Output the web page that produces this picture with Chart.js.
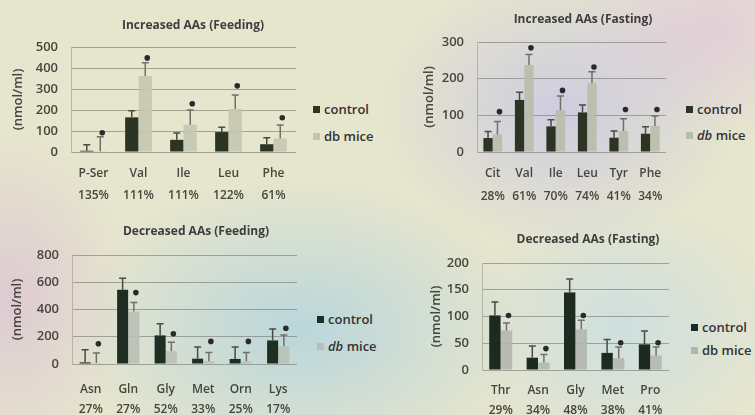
<!DOCTYPE html>
<html>
<head>
<meta charset="utf-8">
<script src="https://cdn.jsdelivr.net/npm/chart.js@4.4.1/dist/chart.umd.min.js"></script>
<style>
  html, body { margin: 0; padding: 0; }
  body {
    width: 755px; height: 415px; position: relative; overflow: hidden;
    font-family: "Open Sans", sans-serif;
    background:
      radial-gradient(ellipse 230px 150px at 300px 330px, rgba(178,212,222,0.85), rgba(178,212,222,0) 100%),
      radial-gradient(ellipse 180px 140px at 560px 110px, rgba(200,198,228,0.8), rgba(200,198,228,0) 100%),
      radial-gradient(ellipse 150px 110px at 710px 30px, rgba(226,204,218,0.9), rgba(226,204,218,0) 100%),
      radial-gradient(ellipse 120px 170px at 10px 300px, rgba(220,196,212,0.8), rgba(220,196,212,0) 100%),
      radial-gradient(ellipse 160px 130px at 620px 330px, rgba(200,222,228,0.8), rgba(200,222,228,0) 100%),
      #e6e5cd;
  }
  canvas { position: absolute; }
  .title { position: absolute; font-weight: 700; font-size: 12px; color: #3e3e3e; transform: translate(-50%, -50%); white-space: nowrap; }
  .leg { position: absolute; font-weight: 600; font-size: 13px; color: #333; transform: translateY(-50%); white-space: nowrap; }
  .leg span { display: inline-block; width: 7px; height: 7px; margin-right: 4px; vertical-align: middle; position: relative; top: -1px; }
</style>
</head>
<body>
<canvas id="c1" width="300" height="215" style="left:0;top:0"></canvas>
<canvas id="c2" width="290" height="215" style="left:380px;top:0"></canvas>
<canvas id="c3" width="300" height="205" style="left:0;top:210px"></canvas>
<canvas id="c4" width="295" height="205" style="left:380px;top:210px"></canvas>

<div class="title" style="left:193px;top:24px">Increased AAs (Feeding)</div>
<div class="title" style="left:583px;top:18px">Increased AAs (Fasting)</div>
<div class="title" style="left:196px;top:230px">Decreased AAs (Feeding)</div>
<div class="title" style="left:588px;top:238px">Decreased AAs (Fasting)</div>

<div class="leg" style="left:313px;top:109px"><span style="background:#2c3424"></span>control</div>
<div class="leg" style="left:313px;top:136px"><span style="background:#c2c5ad"></span>db mice</div>
<div class="leg" style="left:686px;top:109px"><span style="background:#2c3424"></span>control</div>
<div class="leg" style="left:686px;top:135px"><span style="background:#b9bcaa"></span><i>db</i> mice</div>
<div class="leg" style="left:317px;top:319px"><span style="background:#1e2e22"></span>control</div>
<div class="leg" style="left:317px;top:346px"><span style="background:#b9c0b6"></span><i>db</i> mice</div>
<div class="leg" style="left:691px;top:327px"><span style="background:#1c2a1f"></span>control</div>
<div class="leg" style="left:691px;top:350px"><span style="background:#b2b7ae"></span>db mice</div>

<script>
// Increased AAs (Feeding)
const feedUpLabels = ['P-Ser', 'Val', 'Ile', 'Leu', 'Phe'];
const feedUpPct = ['135%', '111%', '111%', '122%', '61%'];
const feedUpCtrl = [6, 165, 58, 95, 37];
const feedUpCtrlSd = [29, 32, 32, 23, 31];
const feedUpDb = [4, 362, 130, 205, 64];
const feedUpDbSd = [69, 63, 70, 67, 64];
const feedUpStar = [92, 448, 230, 315, 163];

// Increased AAs (Fasting)
const fastUpLabels = ['Cit', 'Val', 'Ile', 'Leu', 'Tyr', 'Phe'];
const fastUpPct = ['28%', '61%', '70%', '74%', '41%', '34%'];
const fastUpCtrl = [38, 142, 70, 108, 39, 50];
const fastUpCtrlSd = [18, 21, 18, 20, 18, 19];
const fastUpDb = [48, 237, 114, 188, 57, 71];
const fastUpDbSd = [35, 29, 39, 31, 34, 27];
const fastUpStar = [110, 284, 168, 232, 116, 116];

// Decreased AAs (Feeding)
const feedDownLabels = ['Asn', 'Gln', 'Gly', 'Met', 'Orn', 'Lys'];
const feedDownPct = ['27%', '27%', '52%', '33%', '25%', '17%'];
const feedDownCtrl = [12, 545, 210, 39, 37, 173];
const feedDownCtrlSd = [93, 85, 85, 85, 87, 83];
const feedDownDb = [7, 385, 95, 20, 20, 130];
const feedDownDbSd = [73, 66, 64, 65, 65, 82];
const feedDownStar = [149, 524, 222, 166, 166, 262];

// Decreased AAs (Fasting)
const fastDownLabels = ['Thr', 'Asn', 'Gly', 'Met', 'Pro'];
const fastDownPct = ['29%', '34%', '48%', '38%', '41%'];
const fastDownCtrl = [102, 23, 145, 32, 48];
const fastDownCtrlSd = [25, 22, 25, 25, 25];
const fastDownDb = [74, 14, 76, 22, 27];
const fastDownDbSd = [14, 15, 17, 21, 16];
const fastDownStar = [102, 40, 102, 51, 51];

// error bars + significance marks
const errorBars = {
  id: 'errorBars',
  afterDatasetsDraw(chart) {
    const ctx = chart.ctx;
    const ys = chart.scales.y;
    chart.data.datasets.forEach((ds, i) => {
      chart.getDatasetMeta(i).data.forEach((bar, j) => {
        const top = ys.getPixelForValue(ds.data[j] + ds.sd[j]);
        ctx.save();
        ctx.strokeStyle = ds.errColor;
        ctx.lineWidth = 1.5;
        ctx.beginPath();
        ctx.moveTo(bar.x, bar.y);
        ctx.lineTo(bar.x, top);
        ctx.moveTo(bar.x - 3.5, top);
        ctx.lineTo(bar.x + 3.5, top);
        ctx.stroke();
        if (ds.star) {
          ctx.fillStyle = '#2a2a2a';
          ctx.beginPath();
          ctx.arc(bar.x + 2, ys.getPixelForValue(ds.star[j]), 2.8, 0, Math.PI * 2);
          ctx.fill();
        }
        ctx.restore();
      });
    });
  }
};

function makeChart(id, o) {
  const ctx = document.getElementById(id).getContext('2d');
  return new Chart(ctx, {
    type: 'bar',
    data: {
      labels: o.labels.map((l, i) => [l, o.pct[i]]),
      datasets: [{
        label: 'control',
        data: o.ctrl,
        sd: o.ctrlSd,
        backgroundColor: o.ctrlColor,
        errColor: '#4a4a44',
        categoryPercentage: o.catPct,
        barPercentage: 0.98
      }, {
        label: 'db mice',
        data: o.db,
        sd: o.dbSd,
        star: o.star,
        backgroundColor: o.dbColor,
        errColor: '#707068',
        categoryPercentage: o.catPct,
        barPercentage: 0.98
      }]
    },
    options: {
      responsive: false,
      animation: false,
      layout: { padding: { top: o.padTop, right: o.padRight, left: 0, bottom: 0 } },
      plugins: { legend: { display: false }, tooltip: { enabled: false }, title: { display: false } },
      scales: {
        x: {
          grid: { display: false },
          border: { display: false },
          ticks: {
            color: '#46463f', padding: o.xPad, autoSkip: false, maxRotation: 0,
            font: { family: 'Open Sans', size: 12, weight: '600', lineHeight: o.lineH }
          },
          afterFit: s => { s.height = o.xH; }
        },
        y: {
          min: 0, max: o.max,
          ticks: { stepSize: o.step, color: '#46463f', padding: 13, font: { family: 'Open Sans', size: 13, weight: '600' } },
          grid: { color: 'rgba(110,110,100,0.55)', drawTicks: false },
          border: { color: 'rgba(140,140,130,0.5)' },
          title: {
            display: true, text: '(nmol/ml)', color: '#46463f',
            font: { family: 'Open Sans', size: 13, weight: '600' },
            padding: { top: o.titlePad, bottom: 0 }
          },
          afterFit: s => { s.width = o.yW; }
        }
      }
    },
    plugins: [errorBars]
  });
}

makeChart('c1', {
  labels: feedUpLabels, pct: feedUpPct, ctrl: feedUpCtrl, ctrlSd: feedUpCtrlSd,
  db: feedUpDb, dbSd: feedUpDbSd, star: feedUpStar,
  ctrlColor: '#2c3424', dbColor: 'rgba(196,199,176,0.9)', catPct: 0.6,
  max: 500, step: 100, padTop: 47, padRight: 4, yW: 71, xH: 63, xPad: 3, lineH: 1.83, titlePad: 10
});
makeChart('c2', {
  labels: fastUpLabels, pct: fastUpPct, ctrl: fastUpCtrl, ctrlSd: fastUpCtrlSd,
  db: fastUpDb, dbSd: fastUpDbSd, star: fastUpStar,
  ctrlColor: '#2c3424', dbColor: 'rgba(185,188,170,0.9)', catPct: 0.6,
  max: 300, step: 100, padTop: 42, padRight: 4, yW: 97, xH: 63, xPad: 2, lineH: 1.92, titlePad: 41
});
makeChart('c3', {
  labels: feedDownLabels, pct: feedDownPct, ctrl: feedDownCtrl, ctrlSd: feedDownCtrlSd,
  db: feedDownDb, dbSd: feedDownDbSd, star: feedDownStar,
  ctrlColor: '#1e2e22', dbColor: 'rgba(185,192,182,0.9)', catPct: 0.6,
  max: 800, step: 200, padTop: 45, padRight: 3, yW: 72, xH: 51, xPad: 8, lineH: 1.67, titlePad: 9
});
makeChart('c4', {
  labels: fastDownLabels, pct: fastDownPct, ctrl: fastDownCtrl, ctrlSd: fastDownCtrlSd,
  db: fastDownDb, dbSd: fastDownDbSd, star: fastDownStar,
  ctrlColor: '#1c2a1f', dbColor: 'rgba(178,183,174,0.9)', catPct: 0.62,
  max: 200, step: 50, padTop: 53, padRight: 6, yW: 102, xH: 45, xPad: 3, lineH: 1.67, titlePad: 48
});
</script>
</body>
</html>
